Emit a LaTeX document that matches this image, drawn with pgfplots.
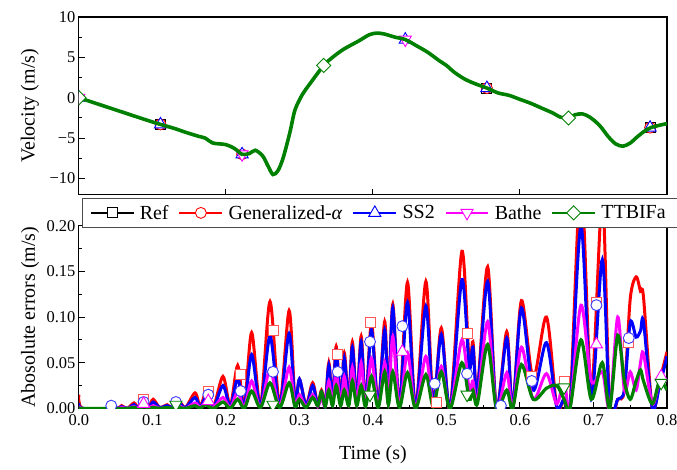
\documentclass[border=0pt]{standalone}
\usepackage{fontspec}
\setmainfont{Liberation Serif}
\usepackage{pgfplots}
\pgfplotsset{compat=1.18}
\usepackage{pgfplotstable}

\definecolor{cRef}{RGB}{0,0,0}
\definecolor{cGA}{RGB}{255,0,0}
\definecolor{cGAl}{RGB}{255,85,85}
\definecolor{cSS}{RGB}{0,0,255}
\definecolor{cSSl}{RGB}{60,60,255}
\definecolor{cBa}{RGB}{255,0,255}
\definecolor{cTT}{RGB}{0,128,0}

% velocity history (all methods lie on top of each other)
\pgfplotstableread{
t v
0.000 0.0
0.030 -0.9
0.060 -1.8
0.090 -2.7
0.111 -3.3
0.130 -3.8
0.146 -4.3
0.164 -4.8
0.172 -5.0
0.182 -5.6
0.200 -5.8
0.212 -6.3
0.222 -7.0
0.232 -6.9
0.240 -6.5
0.250 -7.2
0.257 -8.4
0.264 -9.5
0.271 -9.0
0.278 -7.4
0.287 -4.3
0.294 -1.5
0.304 0.4
0.314 1.7
0.333 4.0
0.345 5.0
0.360 6.0
0.380 7.0
0.395 7.8
0.405 8.0
0.415 7.9
0.430 7.5
0.444 7.2
0.460 6.4
0.475 5.6
0.490 4.6
0.500 4.0
0.510 3.2
0.525 2.3
0.540 1.7
0.555 1.2
0.570 0.6
0.585 0.3
0.600 -0.2
0.615 -0.7
0.630 -1.3
0.645 -1.9
0.655 -2.4
0.666 -2.5
0.675 -2.1
0.685 -2.0
0.695 -2.4
0.708 -3.4
0.720 -4.8
0.730 -5.7
0.740 -6.0
0.750 -5.6
0.760 -4.8
0.770 -4.1
0.778 -3.7
0.790 -3.4
0.800 -3.2
}\veltable

% absolute errors: t, Ref, Generalized-alpha, SS2, Bathe, TTBIFa
\pgfplotstableread{
t      R      G      S      B      T
0.000  0      0.015  0.006  0.003  0.001
0.005  0      0.000  0.000  0.000  0.000
0.050  0      0.000  0.000  0.000  0.000
0.058  0      0.003  0.002  0.001  0.000
0.066  0      0.000  0.000  0.000  0.000
0.075  0      0.006  0.004  0.002  0.001
0.081  0      0.001  0.001  0.000  0.000
0.089  0      0.012  0.009  0.004  0.002
0.095  0      0.002  0.001  0.001  0.000
0.101  0      0.010  0.007  0.003  0.001
0.110  0      0.001  0.001  0.000  0.000
0.120  0      0.004  0.003  0.001  0.001
0.127  0      0.001  0.001  0.000  0.000
0.136  0      0.008  0.006  0.003  0.001
0.145  0      0.001  0.001  0.000  0.000
0.158  0      0.017  0.012  0.006  0.003
0.165  0      0.002  0.001  0.001  0.000
0.172  0      0.015  0.011  0.005  0.004
0.183  0      0.002  0.001  0.001  0.000
0.196  0      0.035  0.025  0.012  0.007
0.206  0      0.003  0.002  0.001  0.000
0.216  0      0.047  0.033  0.018  0.010
0.225  0      0.003  0.002  0.001  0.000
0.235  0      0.083  0.059  0.030  0.019
0.247  0      0.003  0.002  0.001  0.001
0.260  0      0.117  0.079  0.043  0.028
0.273  0      0.004  0.003  0.002  0.001
0.286  0      0.107  0.082  0.045  0.028
0.294  0      0.008  0.006  0.003  0.002
0.300  0      0.032  0.032  0.015  0.010
0.309  0      0.004  0.003  0.002  0.001
0.318  0      0.028  0.025  0.015  0.012
0.325  0      0.004  0.003  0.002  0.003
0.330  0      0.020  0.018  0.012  0.018
0.335  0      0.004  0.003  0.002  0.002
0.340  0      0.050  0.047  0.030  0.020
0.345  0      0.008  0.007  0.004  0.003
0.350  0      0.068  0.062  0.040  0.025
0.356  0      0.008  0.007  0.004  0.003
0.361  0      0.061  0.055  0.035  0.020
0.367  0      0.008  0.007  0.004  0.003
0.372  0      0.073  0.067  0.045  0.030
0.378  0      0.008  0.007  0.004  0.003
0.384  0      0.079  0.073  0.050  0.025
0.390  0      0.005  0.004  0.003  0.002
0.398  0      0.094  0.086  0.055  0.035
0.407  0      0.003  0.003  0.002  0.001
0.416  0      0.095  0.086  0.050  0.040
0.421  0      0.010  0.009  0.005  0.004
0.427  0      0.114  0.110  0.079  0.040
0.436  0      0.003  0.003  0.002  0.001
0.447  0      0.138  0.116  0.061  0.039
0.458  0      0.000  0.000  0.000  0.000
0.472  0      0.139  0.112  0.057  0.037
0.482  0      0.005  0.004  0.003  0.002
0.493  0      0.088  0.081  0.046  0.040
0.505  0      0.000  0.000  0.000  0.000
0.521  0      0.172  0.141  0.075  0.050
0.531  0      0.050  0.045  0.020  0.010
0.536  0      0.073  0.067  0.030  0.020
0.542  0      0.020  0.018  0.008  0.005
0.556  0      0.155  0.139  0.095  0.070
0.568  0      0.000  0.000  0.000  0.000
0.582  0      0.084  0.077  0.039  0.020
0.590  0      0.000  0.000  0.000  0.000
0.602  0      0.118  0.110  0.067  0.048
0.618  0      0.033  0.020  0.010  0.010
0.636  0      0.100  0.072  0.038  0.022
0.650  0      0.002  0.002  0.005  0.025
0.660  0      0.010  0.010  0.030  0.010
0.668  0      0.000  0.000  0.000  0.000
0.683  0      0.250  0.200  0.113  0.075
0.697  0      0.020  0.010  0.030  0.010
0.712  0      0.230  0.163  0.040  0.050
0.722  0      0.000  0.000  0.000  0.000
0.733  0      0.010  0.010  0.100  0.080
0.742  0      0.020  0.020  0.020  0.030
0.750  0      0.120  0.094  0.040  0.010
0.758  0      0.144  0.078  0.020  0.030
0.764  0      0.128  0.085  0.050  0.042
0.768  0      0.122  0.095  0.060  0.030
0.780  0      0.000  0.000  0.005  0.005
0.790  0      0.030  0.025  0.030  0.030
0.800  0      0.062  0.057  0.030  0.020
}\errtable

\tikzset{openmk/.style={solid, fill=white, line width=0.9pt}}

\pgfplotsset{
    panel/.style={
        scale only axis,
        width=589pt,
        xmin=0, xmax=0.8,
        axis line style={line width=1.2pt},
        tick style={black, line width=1pt},
        major tick length=6pt, minor tick length=3.5pt,
        tick align=inside,
        xtick pos=bottom, ytick pos=left,
        tick label style={font=\fontsize{16.5}{20}\selectfont},
        xticklabel style={yshift=-3pt},
        label style={font=\fontsize{20}{24}\selectfont},
        ylabel style={at={([xshift=-49pt]rel axis cs:0,0.5)}, anchor=center},
        clip marker paths=true,
    },
    mk/.style={only marks, forget plot},
    legend image code/.code={\draw[mark repeat=2,mark phase=2,#1] plot coordinates {(0pt,0pt) (21.5pt,0pt) (43pt,0pt)};},
}

\begin{document}
\begin{tikzpicture}
\useasboundingbox (-79pt,-61pt) rectangle (599pt,409pt);

% ---------- upper panel: velocity ----------
\begin{axis}[panel,
    at={(0,214pt)}, anchor=south west,
    height=178pt,
    ymin=-12, ymax=10,
    ytick={-10,-5,0,5,10}, yticklabels={−10,−5,0,5,10},
    minor y tick num=1,
    xtick={0.2,0.4,0.6}, xticklabels={},
    ylabel={Velocity (m/s)},
]
\addplot[cRef, line width=1.5pt, smooth, forget plot] table[x=t,y=v]{\veltable};
\addplot[mk, cRef, mark=square*, mark size=5pt, mark options={openmk}] coordinates {(0.111,-3.3) (0.555,1.2) (0.777,-3.7)};
\addplot[cGA, line width=1.5pt, smooth, forget plot] table[x=t,y=v]{\veltable};
\addplot[mk, cGA, mark=*, mark size=5.5pt, mark options={openmk}] coordinates {(0.111,-3.3) (0.222,-7.0) (0.555,1.2) (0.777,-3.7)};
\addplot[cSS, line width=2pt, smooth, forget plot] table[x=t,y=v]{\veltable};
\addplot[mk, cSS, mark=triangle*, mark size=7pt, mark options={openmk}] coordinates {(0,0) (0.111,-3.3) (0.222,-7.0) (0.444,7.2) (0.555,1.2) (0.777,-3.7)};
\addplot[cBa, line width=2pt, smooth, forget plot] table[x=t,y=v]{\veltable};
\addplot[mk, cBa, mark=triangle*, mark size=7pt, mark options={openmk, rotate=180}] coordinates {(0,0) (0.222,-7.0) (0.444,7.2)};
\addplot[cTT, line width=3.6pt, smooth, forget plot] table[x=t,y=v]{\veltable};
\addplot[mk, cTT, mark=square*, mark size=5pt, mark options={openmk, rotate=45}] coordinates {(0,0) (0.333,4.0) (0.666,-2.5)};
\end{axis}

% ---------- lower panel: absolute errors ----------
\begin{axis}[panel,
    at={(0,0)}, anchor=south west,
    height=183pt,
    ymin=0, ymax=0.2,
    ytick={0,0.05,0.1,0.15,0.2}, yticklabels={0.00,0.05,0.10,0.15,0.20},
    minor y tick num=1,
    xtick={0,0.1,0.2,0.3,0.4,0.5,0.6,0.7,0.8},
    xticklabels={0.0,0.1,0.2,0.3,0.4,0.5,0.6,0.7,0.8},
    minor x tick num=1,
    xlabel={Time (s)},
    xlabel style={at={(rel axis cs:0.5,0)}, anchor=center, yshift=-46pt},
    ylabel={Abosolute errors (m/s)},
    legend columns=-1,
    legend style={at={(0.0051,1.153)}, anchor=north west,
        font=\fontsize{20}{24}\selectfont,
        draw=black!70, line width=0.8pt, fill=white,
        inner xsep=7pt, inner ysep=4.5pt,
        nodes={inner xsep=5pt, inner ysep=2.5pt},
        /tikz/every even column/.append style={column sep=4.5pt}},
]
\addlegendimage{cRef, line width=2.6pt, mark=square*, mark size=5pt, mark options={openmk}}
\addlegendentry{Ref}
\addlegendimage{cGA, line width=2.6pt, mark=*, mark size=5.5pt, mark options={openmk}}
\addlegendentry{Generalized-\textit{α}}
\addlegendimage{cSS, line width=2.6pt, mark=triangle*, mark size=7pt, mark options={openmk}}
\addlegendentry{SS2}
\addlegendimage{cBa, line width=2.6pt, mark=triangle*, mark size=7pt, mark options={openmk, rotate=180}}
\addlegendentry{Bathe}
\addlegendimage{cTT, line width=2.6pt, mark=square*, mark size=5pt, mark options={openmk, rotate=45}}
\addlegendentry{TTBIFa}

\addplot[cRef, line width=2pt, forget plot] table[x=t,y=R]{\errtable};
\addplot[cGA, line width=3pt, smooth, tension=0.5, forget plot] table[x=t,y=G]{\errtable};
\addplot[cSS, line width=3pt, smooth, tension=0.5, forget plot] table[x=t,y=S]{\errtable};
\addplot[cBa, line width=3pt, smooth, tension=0.5, forget plot] table[x=t,y=B]{\errtable};
\addplot[cTT, line width=3.2pt, smooth, tension=0.5, forget plot] table[x=t,y=T]{\errtable};

\addplot[mk, cGAl, mark=square*, mark size=5pt, mark options={openmk}] coordinates {
    (0.088,0.010) (0.176,0.019) (0.220,0.037) (0.264,0.085) (0.352,0.059) (0.396,0.094)
    (0.486,0.007) (0.528,0.082) (0.616,0.035) (0.660,0.030) (0.704,0.116) (0.748,0.072)};
\addplot[mk, cSSl, mark=*, mark size=5.5pt, mark options={openmk}] coordinates {
    (0.044,0.003) (0.088,0.007) (0.132,0.007) (0.176,0.015) (0.220,0.019) (0.264,0.040)
    (0.352,0.040) (0.396,0.073) (0.440,0.090) (0.484,0.027) (0.528,0.038) (0.574,0.003)
    (0.616,0.030) (0.704,0.113) (0.748,0.077)};
\addplot[mk, cBa, mark=triangle*, mark size=7pt, mark options={openmk}] coordinates {
    (0.088,0.005) (0.176,0.008) (0.440,0.062) (0.704,0.070) (0.792,0.035)};
\addplot[mk, cTT, mark=triangle*, mark size=7pt, mark options={openmk, rotate=180}] coordinates {
    (0.132,0.004) (0.264,0.004) (0.396,0.015) (0.528,0.015) (0.660,0.023) (0.792,0.028)};
\end{axis}
\end{tikzpicture}
\end{document}
